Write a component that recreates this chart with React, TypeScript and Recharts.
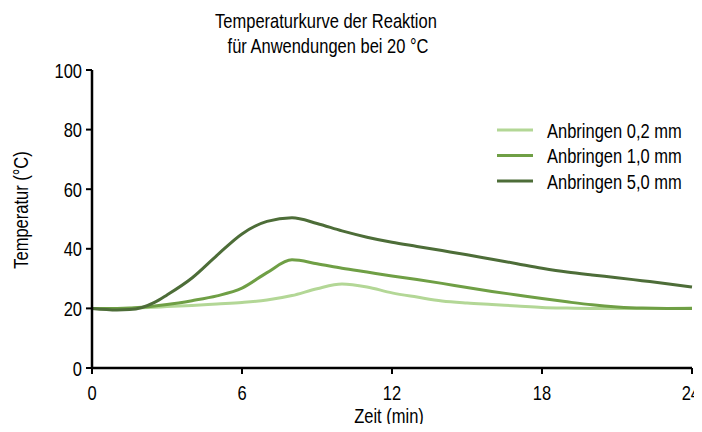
import React from "react";
import { LineChart, Line, XAxis, YAxis, Legend, Label } from "recharts";

const times = [0, 1, 1.5, 2, 2.5, 3, 4, 5, 6, 7, 8, 9, 10, 11, 12, 13, 14, 15, 16, 17, 18, 19, 20, 21, 22, 23, 24];
const s02 = [20, 20, 20, 20.2, 20.4, 20.6, 21, 21.5, 22, 22.8, 24.3, 26.6, 28.2, 27.2, 25.2, 23.8, 22.5, 21.8, 21.3, 20.8, 20.3, 20.1, 20, 20, 20, 20, 20.1];
const s10 = [20, 20, 20.1, 20.4, 20.8, 21.3, 22.6, 24.2, 26.8, 32, 36.3, 35, 33.5, 32.2, 30.9, 29.7, 28.4, 27, 25.7, 24.5, 23.3, 22.2, 21.2, 20.5, 20.1, 20, 20];
const s50 = [20, 19.5, 19.6, 20.3, 22, 24.5, 30.2, 37.8, 45, 49.2, 50.4, 48.5, 46, 43.9, 42.2, 40.8, 39.4, 38, 36.5, 35, 33.5, 32.2, 31.2, 30.3, 29.3, 28.3, 27.2];
const seriesNames = ["Anbringen 0,2 mm", "Anbringen 1,0 mm", "Anbringen 5,0 mm"];
const seriesColors = ["#b3d796", "#6f9f45", "#4d6d38"];
const xTicks = [0, 6, 12, 18, 24];
const yTicks = [0, 20, 40, 60, 80, 100];
const titleLines = ["Temperaturkurve der Reaktion", "für Anwendungen bei 20 °C"];
const xTitle = "Zeit (min)";
const yTitle = "Temperatur (°C)";

const data = times.map((t, i) => ({ t, a: s02[i], b: s10[i], c: s50[i] }));
const keys = ["a", "b", "c"];

const FONT = "'Liberation Sans', Arial, sans-serif";
const SY = 1.27;
const FS = 16.5;

const Txt = ({ x, y, anchor = "start", rotate = false, children }: any) => (
  <text
    transform={`translate(${x},${y}) ${rotate ? "rotate(-90)" : ""} scale(1,${SY})`}
    textAnchor={anchor}
    fontFamily={FONT}
    fontSize={FS}
    fill="#000"
  >
    {children}
  </text>
);

const YTick = (props: any) => {
  const { y, payload } = props;
  return <Txt x={82} y={y + 7.5} anchor="end">{payload.value}</Txt>;
};

const XTick = (props: any) => {
  const { x, payload } = props;
  const last = payload.value === xTicks[xTicks.length - 1];
  return (
    <Txt x={last ? x + 8 : x} y={400} anchor={last ? "end" : "middle"}>
      {payload.value}
    </Txt>
  );
};

const LegendContent = () => (
  <svg width={200} height={80}>
    {seriesNames.map((n, i) => (
      <g key={n}>
        <line x1={0} x2={36} y1={12 + i * 25.5} y2={12 + i * 25.5} stroke={seriesColors[i]} strokeWidth={3} />
        <Txt x={50} y={12 + i * 25.5 + 7.5}>{n}</Txt>
      </g>
    ))}
  </svg>
);

export default function App() {
  return (
    <div style={{ position: "relative", width: 702, height: 432, margin: "-8px -8px -8px -8px" }}>
      <style>{`.recharts-surface{overflow:visible}`}</style>
      <svg style={{ position: "absolute", left: 0, top: 0, pointerEvents: "none" }} width={702} height={64}>
        <Txt x={326} y={28} anchor="middle">{titleLines[0]}</Txt>
        <Txt x={328} y={53} anchor="middle">{titleLines[1]}</Txt>
      </svg>
      <LineChart
        width={702}
        height={432}
        data={data}
        margin={{ top: 70, right: 10, left: 0, bottom: 0 }}
      >
        <XAxis
          dataKey="t"
          type="number"
          domain={[0, 24]}
          ticks={xTicks}
          tick={<XTick />}
          tickSize={6}
          height={64}
          stroke="#000"
          strokeWidth={2.5}
          tickLine={{ stroke: "#000", strokeWidth: 2 }}
          interval={0}
        >
          <Label
            content={() => <Txt x={389} y={423} anchor="middle">{xTitle}</Txt>}
          />
        </XAxis>
        <YAxis
          type="number"
          domain={[0, 100]}
          ticks={yTicks}
          tick={<YTick />}
          tickSize={6}
          width={92}
          stroke="#000"
          strokeWidth={2.5}
          tickLine={{ stroke: "#000", strokeWidth: 2 }}
          interval={0}
        >
          <Label
            content={() => <Txt x={28} y={210} anchor="middle" rotate>{yTitle}</Txt>}
          />
        </YAxis>
        <Legend
          layout="vertical"
          align="center"
          verticalAlign="middle"
          content={<LegendContent />}
          wrapperStyle={{ position: "absolute", left: 497, top: 118, width: 200, height: 80 }}
        />
        {keys.map((k, i) => (
          <Line
            key={k}
            dataKey={k}
            name={seriesNames[i]}
            type="monotone"
            stroke={seriesColors[i]}
            strokeWidth={3}
            dot={false}
            activeDot={false}
            isAnimationActive={false}
          />
        ))}
      </LineChart>
    </div>
  );
}
